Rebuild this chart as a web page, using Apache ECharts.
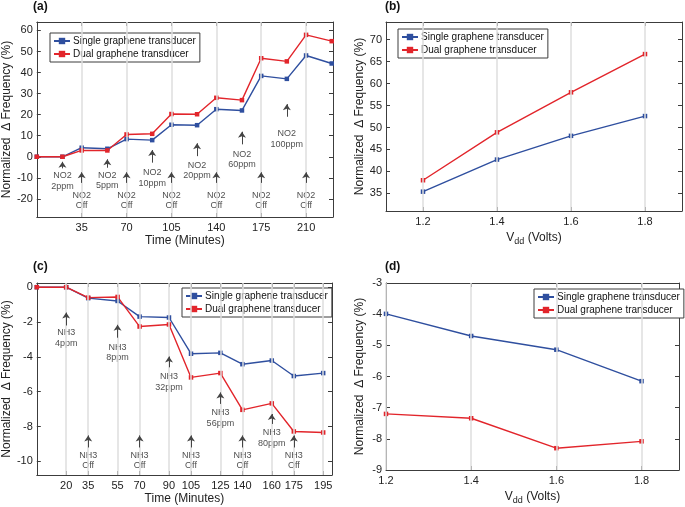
<!DOCTYPE html>
<html>
<head>
<meta charset="utf-8">
<script src="https://cdn.jsdelivr.net/npm/echarts@6/dist/echarts.min.js"></script>
<style>html,body{margin:0;padding:0;background:#fff}#c{width:685px;height:507px}</style>
</head>
<body>
<div id="c"></div>
<script>
// ---------- data ----------
const seriesNames = ['Single graphene transducer', 'Dual graphene transducer'];

// (a) NO2 time response
const timeA = [0, 20, 35, 55, 70, 90, 105, 125, 140, 160, 175, 195, 210, 230];
const singleA = [0, 0, 4.3, 3.8, 8.4, 7.9, 15.2, 15.0, 22.6, 22.0, 38.4, 37.0, 48.1, 44.3];
const dualA = [0, 0, 3.0, 3.0, 10.6, 10.9, 20.3, 20.2, 28.0, 26.9, 46.8, 45.3, 57.9, 54.9];
const xTicksA = [35, 70, 105, 140, 175, 210];
const yTicksA = [-20, -10, 0, 10, 20, 30, 40, 50, 60];
const annoTimeA = [20, 55, 90, 125, 160, 195, 35, 70, 105, 140, 175, 210];
const annoTextA = ['NO2\n2ppm', 'NO2\n5ppm', 'NO2\n10ppm', 'NO2\n20ppm', 'NO2\n60ppm', 'NO2\n100ppm',
  'NO2\nOff', 'NO2\nOff', 'NO2\nOff', 'NO2\nOff', 'NO2\nOff', 'NO2\nOff'];
const annoTipA = [-2.4, -1.2, 3.2, 6.4, 11.9, 25.0, -7.4, -7.4, -7.4, -7.4, -7.4, -7.4];
const annoTailA = [-5.5, -5.2, -2.8, 0.3, 5.9, 19.0, -12.4, -12.4, -12.4, -12.4, -12.4, -12.4];
const annoTextYA = [-11.6, -11.2, -10.0, -6.6, -1.3, 8.5, -20.7, -20.7, -20.7, -20.7, -20.7, -20.7];

// (b) NO2 vs Vdd
const vdd = [1.2, 1.4, 1.6, 1.8];
const singleB = [35.4, 42.7, 48.1, 52.6];
const dualB = [38.0, 48.9, 58.0, 66.7];
const xTicksB = [1.2, 1.4, 1.6, 1.8];
const yTicksB = [35, 40, 45, 50, 55, 60, 65, 70];

// (c) NH3 time response
const timeC = [0, 20, 35, 55, 70, 90, 105, 125, 140, 160, 175, 195];
const singleC = [0, 0, -0.63, -0.79, -1.69, -1.74, -3.82, -3.77, -4.42, -4.21, -5.10, -4.93];
const dualC = [0, 0, -0.60, -0.56, -2.26, -2.14, -5.18, -4.93, -7.04, -6.67, -8.28, -8.34];
const xTicksC = [20, 35, 55, 70, 90, 105, 125, 140, 160, 175, 195];
const yTicksC = [-10, -8, -6, -4, -2, 0];
const annoTimeC = [20, 55, 90, 125, 160, 35, 70, 105, 140, 175];
const annoTextC = ['NH3\n4ppm', 'NH3\n8ppm', 'NH3\n32ppm', 'NH3\n56ppm', 'NH3\n80ppm',
  'NH3\nOff', 'NH3\nOff', 'NH3\nOff', 'NH3\nOff', 'NH3\nOff'];
const annoTipC = [-1.46, -2.16, -3.98, -6.04, -7.28, -8.51, -8.51, -8.51, -8.51, -8.51];
const annoTailC = [-2.2, -2.9, -4.6, -6.7, -7.85, -9.2, -9.2, -9.2, -9.2, -9.2];
const annoTextYC = [-2.92, -3.76, -5.44, -7.51, -8.66, -9.96, -9.96, -9.96, -9.96, -9.96];

// (d) NH3 vs Vdd
const singleD = [-3.99, -4.70, -5.14, -6.15];
const dualD = [-7.20, -7.34, -8.30, -8.08];
const xTicksD = [1.2, 1.4, 1.6, 1.8];
const yTicksD = [-9, -8, -7, -6, -5, -4, -3];

// ---------- styling ----------
const FONT = 'Liberation Sans, Arial, Helvetica, sans-serif';
const BLUE = '#2f4f9f';
const RED = '#e2252b';
const AXIS = '#3c3c3c';
const GRIDC = '#dedede';

const grids = [
  { left: 33, top: 22, width: 300, height: 195 },
  { left: 386, top: 22, width: 296, height: 189 },
  { left: 33, top: 283, width: 299, height: 192 },
  { left: 386, top: 283, width: 293, height: 187 }
];

const vddName = '{v|V}{s|dd}{v| (Volts)}';
const vddRich = { v: { fontSize: 12, fontFamily: FONT, color: '#222' }, s: { fontSize: 9, fontFamily: FONT, color: '#222', padding: [8, 0, 0, 0] } };

const panels = [
  { xMin: 0, xMax: 231, yMin: -28.6, yMax: 64, xTicks: xTicksA, yTicks: yTicksA, xName: 'Time (Minutes)' },
  { xMin: 1.1, xMax: 1.9, yMin: 31, yMax: 74, xTicks: xTicksB, yTicks: yTicksB, xName: vddName },
  { xMin: 0, xMax: 201, yMin: -10.78, yMax: 0.24, xTicks: xTicksC, yTicks: yTicksC, xName: 'Time (Minutes)' },
  { xMin: 1.2, xMax: 1.888, yMin: -9, yMax: -3, xTicks: xTicksD, yTicks: yTicksD, xName: vddName }
];

const xAxes = [], yAxes = [];
panels.forEach((p, i) => {
  const lineStyle = { color: AXIS, width: 1 };
  xAxes.push({
    type: 'value', gridIndex: i, min: p.xMin, max: p.xMax, position: 'bottom',
    axisLine: { show: true, onZero: false, lineStyle },
    axisTick: { show: true, inside: true, length: 4, customValues: p.xTicks, lineStyle },
    axisLabel: { customValues: p.xTicks, color: '#222', fontSize: 11, fontFamily: FONT, margin: 5 },
    splitLine: { show: false },
    name: p.xName, nameLocation: 'middle', nameGap: 18,
    nameTextStyle: { fontSize: 12, fontFamily: FONT, color: '#222', rich: vddRich }
  });
  xAxes.push({
    type: 'value', gridIndex: i, min: p.xMin, max: p.xMax, position: 'top',
    axisLine: { show: true, onZero: false, lineStyle },
    axisTick: { show: true, inside: true, length: 4, customValues: p.xTicks, lineStyle },
    axisLabel: { show: false }, splitLine: { show: false }
  });
  yAxes.push({
    type: 'value', gridIndex: i, min: p.yMin, max: p.yMax, position: 'left',
    axisLine: { show: true, onZero: false, lineStyle },
    axisTick: { show: true, inside: true, length: 4, customValues: p.yTicks, lineStyle },
    axisLabel: { customValues: p.yTicks, color: '#222', fontSize: 11, fontFamily: FONT, margin: 4 },
    splitLine: { show: false },
    name: 'Normalized  \u0394 Frequency (%)', nameLocation: 'middle', nameRotate: 90,
    nameGap: 20, nameTextStyle: { fontSize: 12, fontFamily: FONT, color: '#222' }
  });
  yAxes.push({
    type: 'value', gridIndex: i, min: p.yMin, max: p.yMax, position: 'right',
    axisLine: { show: true, onZero: false, lineStyle },
    axisTick: { show: true, inside: true, length: 4, customValues: p.yTicks, lineStyle },
    axisLabel: { show: false }, splitLine: { show: false }
  });
});

const series = [];
function gridLineSeries(i, ticks) {
  series.push({
    type: 'line', xAxisIndex: 2 * i, yAxisIndex: 2 * i, data: [], silent: true, z: 1,
    markLine: {
      silent: true, symbol: ['none', 'none'], label: { show: false },
      lineStyle: { color: GRIDC, width: 1.5, type: 'solid' },
      animation: false,
      data: ticks.map(t => ({ xAxis: t }))
    }
  });
}
function dataSeries(i, xs, s, d) {
  [[s, BLUE, 0], [d, RED, 1]].forEach(([vals, col, k]) => {
    series.push({
      name: seriesNames[k], type: 'line', xAxisIndex: 2 * i, yAxisIndex: 2 * i,
      data: xs.map((x, j) => [x, vals[j]]),
      symbol: 'rect', symbolSize: 4.5, showSymbol: true,
      lineStyle: { color: col, width: 1.4 }, itemStyle: { color: col },
      z: 3, animation: false
    });
  });
}
function annoSeries(i, times, texts, tips, tails, textYs) {
  series.push({
    type: 'scatter', xAxisIndex: 2 * i, yAxisIndex: 2 * i, silent: true, z: 2,
    symbolSize: 0,
    data: times.map((t, j) => ({ value: [t, textYs[j]], name: texts[j] })),
    label: {
      show: true, position: 'inside', formatter: p => p.name,
      fontSize: 9, fontFamily: FONT, color: '#222', lineHeight: 10.5, align: 'center'
    },
    markLine: {
      silent: true, symbol: ['none', 'arrow'], symbolSize: 6,
      label: { show: false }, animation: false,
      lineStyle: { color: '#444', width: 1, type: 'solid' },
      data: times.map((t, j) => [{ coord: [t, tails[j]] }, { coord: [t, tips[j]] }])
    },
    animation: false
  });
}

gridLineSeries(0, xTicksA);
gridLineSeries(1, xTicksB);
gridLineSeries(2, xTicksC);
gridLineSeries(3, xTicksD);
dataSeries(0, timeA, singleA, dualA);
dataSeries(1, vdd, singleB, dualB);
dataSeries(2, timeC, singleC, dualC);
dataSeries(3, vdd, singleD, dualD);
annoSeries(0, annoTimeA, annoTextA, annoTipA, annoTailA, annoTextYA);
annoSeries(2, annoTimeC, annoTextC, annoTipC, annoTailC, annoTextYC);

const legendPos = [
  { left: 50, top: 33 }, { left: 398, top: 29 }, { left: 182, top: 288 }, { left: 534, top: 289 }
];
const legends = legendPos.map(pos => Object.assign({
  data: seriesNames, orient: 'vertical', itemGap: 3, itemWidth: 16, itemHeight: 8,
  padding: [3, 4, 3, 3], borderColor: AXIS, borderWidth: 1, backgroundColor: '#fff',
  textStyle: { fontSize: 10, fontFamily: FONT, color: '#111', padding: [0, 0, 0, -2] },
  selectedMode: false
}, pos));

const titlePos = [[33, 1, '(a)'], [385, 1, '(b)'], [33, 261, '(c)'], [385, 261, '(d)']];
const titles = titlePos.map(([l, t, txt]) => ({
  text: txt, left: l, top: t, padding: 0,
  textStyle: { fontSize: 12, fontWeight: 'bold', fontFamily: FONT, color: '#111' }
}));

const chart = echarts.init(document.getElementById('c'), null, { renderer: 'canvas' });
chart.setOption({
  animation: false,
  backgroundColor: '#fff',
  title: titles,
  legend: legends,
  grid: grids,
  xAxis: xAxes,
  yAxis: yAxes,
  series
});
</script>
</body>
</html>
